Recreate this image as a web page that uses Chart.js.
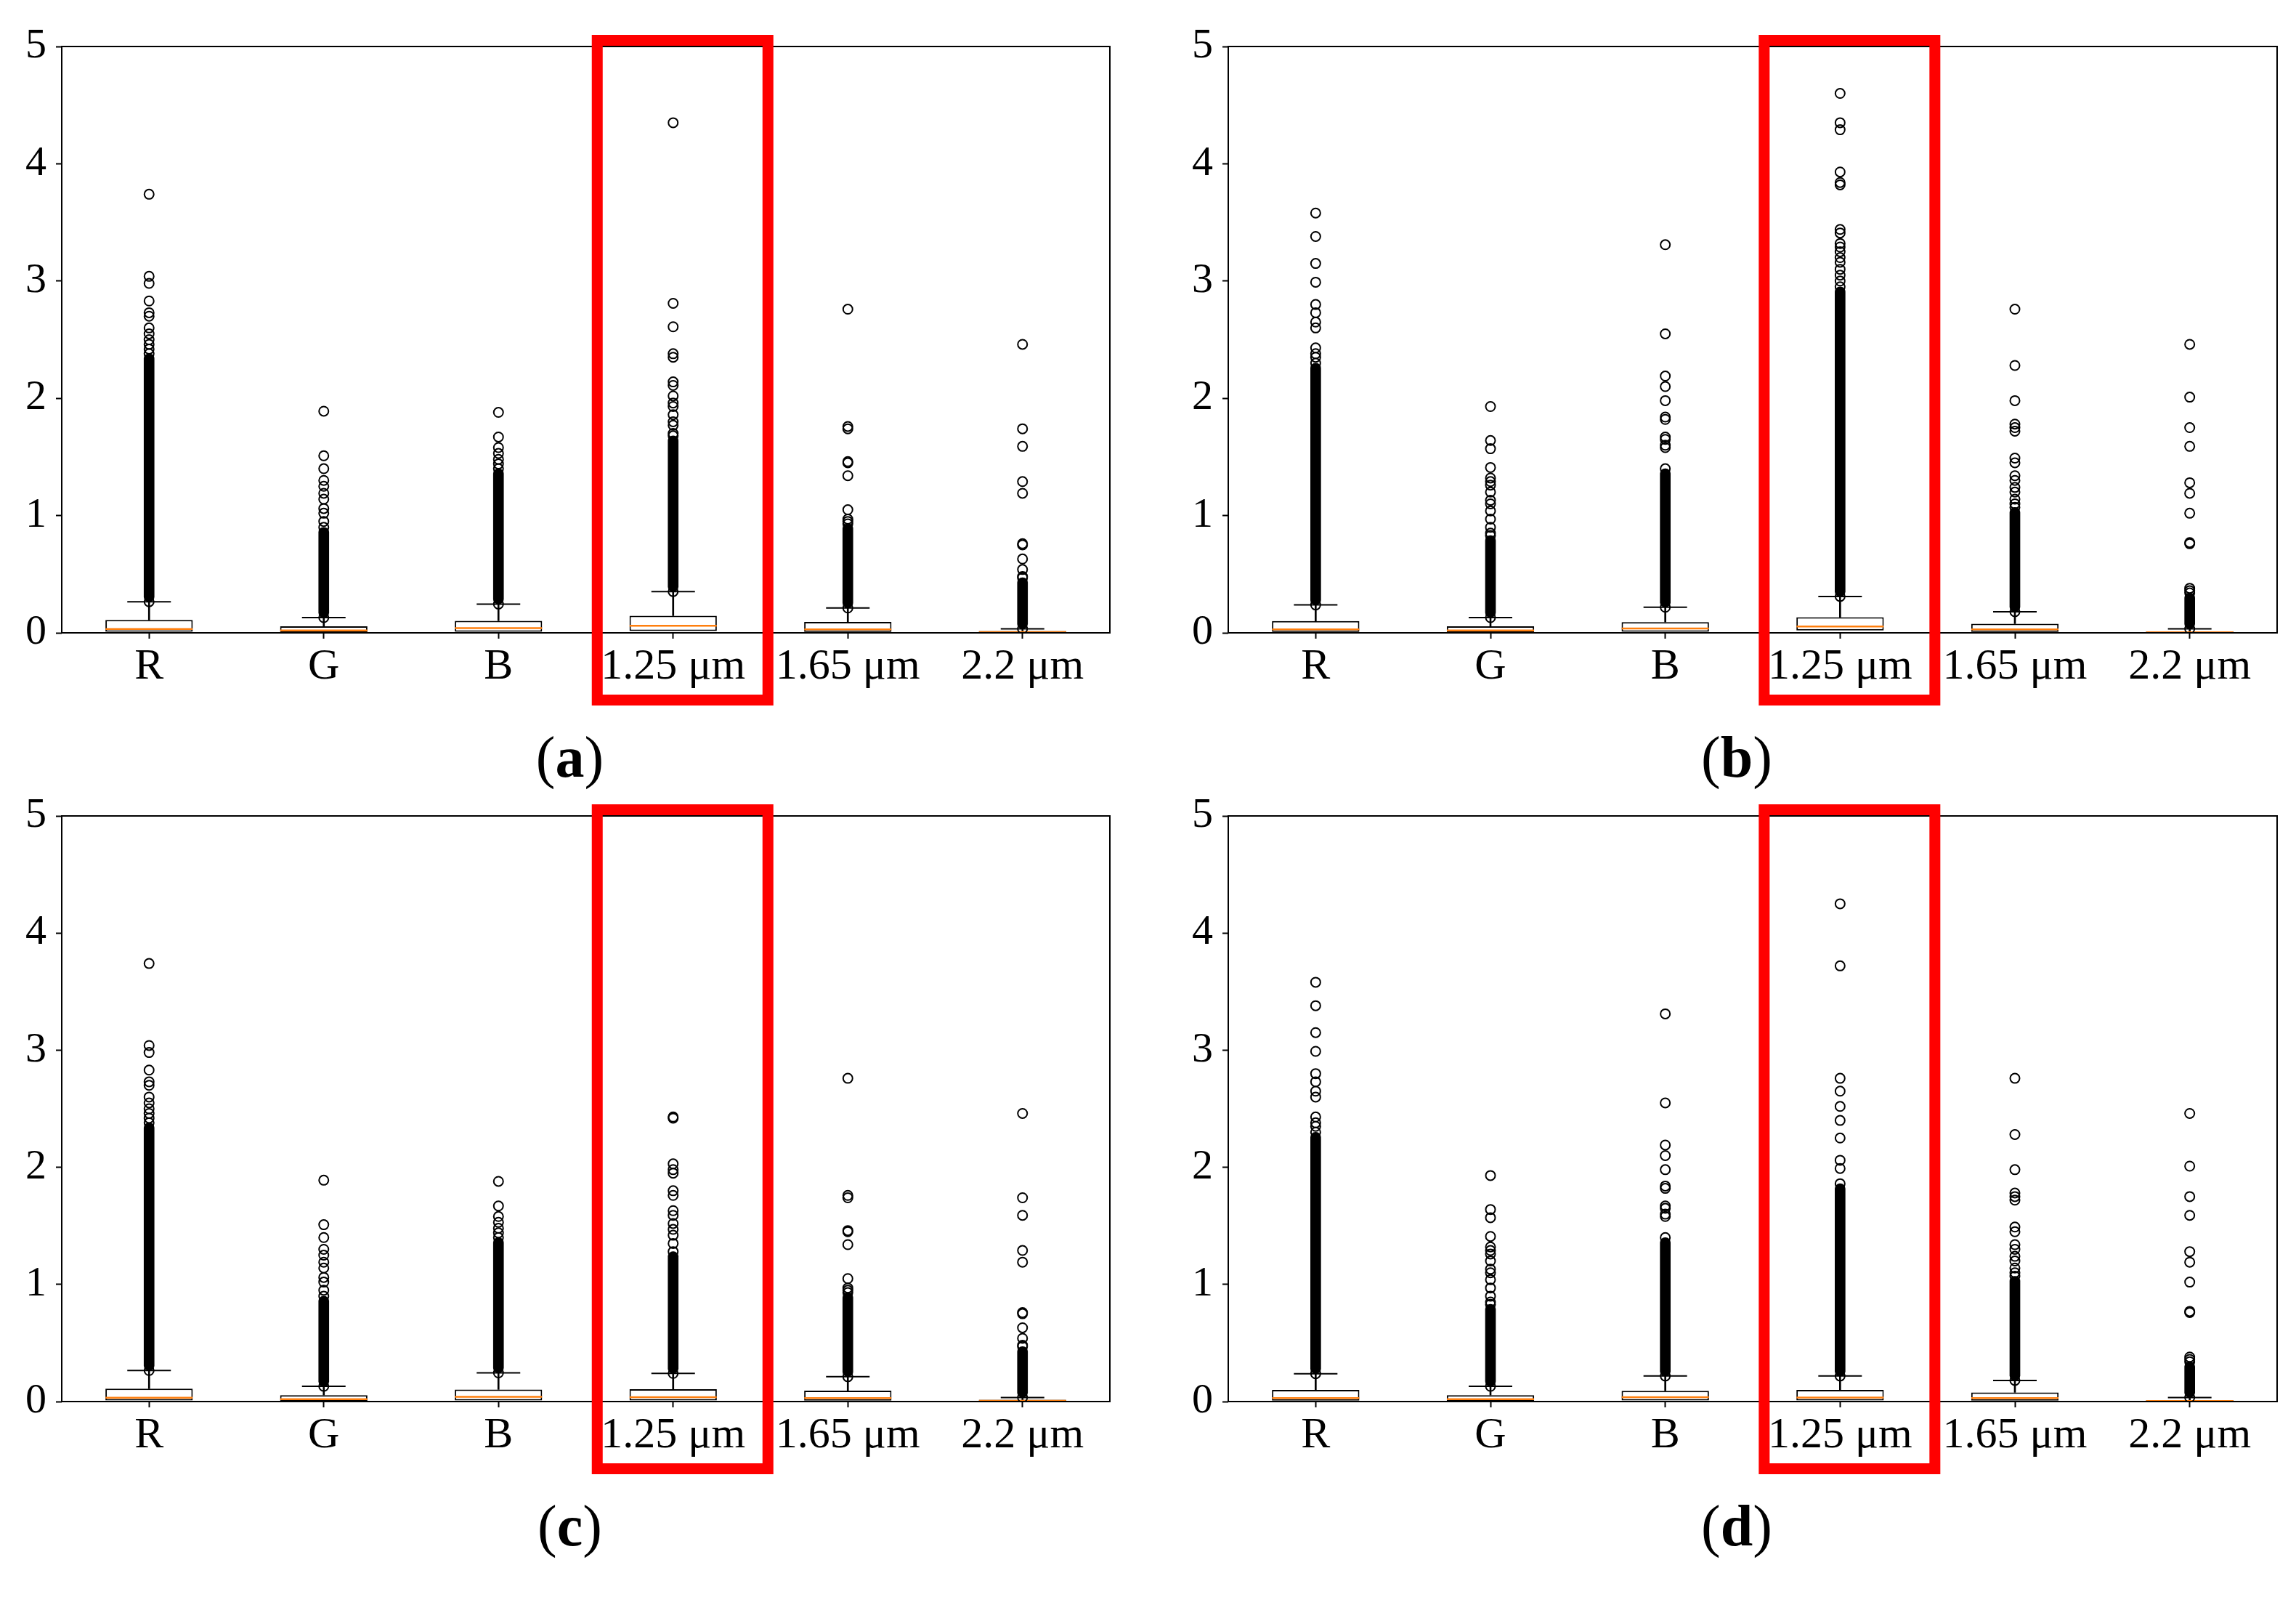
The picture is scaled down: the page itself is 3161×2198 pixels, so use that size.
<!DOCTYPE html>
<html>
<head>
<meta charset="utf-8">
<script src="https://cdn.jsdelivr.net/npm/chart.js@4.4.0/dist/chart.umd.min.js"></script>
<style>
    html, body { margin: 0; padding: 0; background: #fff; }
    body { width: 3161px; height: 2198px; position: relative; overflow: hidden; }
    canvas { position: absolute; left: 0; top: 0; }
</style>
</head>
<body>
<canvas id="pa" width="3161" height="2198"></canvas>
<canvas id="pb" width="3161" height="2198"></canvas>
<canvas id="pc" width="3161" height="2198"></canvas>
<canvas id="pd" width="3161" height="2198"></canvas>
<script>
/* ── Data ───────────────────────────────────────────────── */
const categories = ['R', 'G', 'B', '1.25 μm', '1.65 μm', '2.2 μm'];
const yTicks     = [0, 1, 2, 3, 4, 5];
const whiskerLo  = [0, 0, 0, 0, 0, 0];

/* (a) */
const aQ1        = [0.010, 0.005, 0.010, 0.016, 0.008, 0.002];
const aMedian    = [0.032, 0.020, 0.040, 0.060, 0.030, 0.006];
const aQ3        = [0.110, 0.055, 0.103, 0.146, 0.093, 0.015];
const aWhiskerHi = [0.265, 0.130, 0.245, 0.352, 0.212, 0.034];
const aDenseHi   = [2.38, 0.90, 1.40, 1.68, 0.93, 0.47];
const aFliers    = [
    [2.42, 2.46, 2.50, 2.55, 2.60, 2.70, 2.73, 2.83, 2.98, 3.04, 3.74],
    [0.95, 1.02, 1.06, 1.14, 1.19, 1.25, 1.30, 1.40, 1.51, 1.89],
    [1.44, 1.48, 1.53, 1.58, 1.67, 1.88],
    [1.70, 1.77, 1.80, 1.86, 1.93, 1.96, 2.02, 2.11, 2.14, 2.35, 2.38, 2.61, 2.81, 4.35],
    [0.95, 0.97, 1.05, 1.34, 1.45, 1.46, 1.74, 1.76, 2.76],
    [0.48, 0.54, 0.63, 0.75, 0.76, 1.19, 1.29, 1.59, 1.74, 2.46],
];

/* (b) */
const bQ1        = [0.007, 0.005, 0.010, 0.020, 0.008, 0.001];
const bMedian    = [0.030, 0.020, 0.037, 0.054, 0.030, 0.005];
const bQ3        = [0.100, 0.055, 0.092, 0.133, 0.078, 0.012];
const bWhiskerHi = [0.238, 0.130, 0.218, 0.310, 0.180, 0.034];
const bDenseHi   = [2.30, 0.83, 1.40, 2.95, 1.07, 0.34];
const bFliers    = [
    [2.35, 2.38, 2.43, 2.60, 2.65, 2.73, 2.80, 2.99, 3.15, 3.38, 3.58],
    [0.85, 0.90, 0.97, 1.04, 1.10, 1.13, 1.20, 1.26, 1.29, 1.32, 1.41, 1.57, 1.64, 1.93],
    [1.58, 1.60, 1.65, 1.67, 1.82, 1.84, 1.98, 2.10, 2.19, 2.55, 3.31],
    [3.00, 3.05, 3.10, 3.16, 3.20, 3.25, 3.29, 3.32, 3.41, 3.44, 3.82, 3.84, 3.93, 4.29, 4.35, 4.60],
    [1.10, 1.14, 1.20, 1.24, 1.30, 1.34, 1.45, 1.49, 1.72, 1.75, 1.78, 1.98, 2.28, 2.76],
    [0.36, 0.38, 0.76, 0.77, 1.02, 1.19, 1.28, 1.59, 1.75, 2.01, 2.46],
];

/* (c) */
const cQ1        = [0.010, 0.005, 0.010, 0.010, 0.008, 0.002];
const cMedian    = [0.032, 0.020, 0.040, 0.037, 0.030, 0.006];
const cQ3        = [0.110, 0.055, 0.103, 0.105, 0.093, 0.015];
const cWhiskerHi = [0.265, 0.130, 0.245, 0.240, 0.212, 0.034];
const cDenseHi   = [2.38, 0.90, 1.40, 1.28, 0.93, 0.47];
const cFliers    = [
    [2.42, 2.46, 2.50, 2.55, 2.60, 2.70, 2.73, 2.83, 2.98, 3.04, 3.74],
    [0.95, 1.02, 1.06, 1.14, 1.19, 1.25, 1.30, 1.40, 1.51, 1.89],
    [1.44, 1.48, 1.53, 1.58, 1.67, 1.88],
    [1.35, 1.42, 1.47, 1.52, 1.59, 1.63, 1.76, 1.80, 1.95, 1.98, 2.03, 2.42, 2.43],
    [0.95, 0.97, 1.05, 1.34, 1.45, 1.46, 1.74, 1.76, 2.76],
    [0.48, 0.54, 0.63, 0.75, 0.76, 1.19, 1.29, 1.59, 1.74, 2.46],
];

/* (d) */
const dQ1        = [0.007, 0.005, 0.010, 0.010, 0.008, 0.001];
const dMedian    = [0.030, 0.020, 0.037, 0.034, 0.030, 0.005];
const dQ3        = [0.100, 0.055, 0.092, 0.100, 0.078, 0.012];
const dWhiskerHi = [0.238, 0.130, 0.218, 0.218, 0.180, 0.034];
const dDenseHi   = [2.30, 0.83, 1.40, 1.86, 1.07, 0.34];
const dFliers    = [
    [2.35, 2.38, 2.43, 2.60, 2.65, 2.73, 2.80, 2.99, 3.15, 3.38, 3.58],
    [0.85, 0.90, 0.97, 1.04, 1.10, 1.13, 1.20, 1.26, 1.29, 1.32, 1.41, 1.57, 1.64, 1.93],
    [1.58, 1.60, 1.65, 1.67, 1.82, 1.84, 1.98, 2.10, 2.19, 2.55, 3.31],
    [1.99, 2.06, 2.25, 2.40, 2.52, 2.65, 2.76, 3.72, 4.25],
    [1.10, 1.14, 1.20, 1.24, 1.30, 1.34, 1.45, 1.49, 1.72, 1.75, 1.78, 1.98, 2.28, 2.76],
    [0.36, 0.38, 0.76, 0.77, 1.02, 1.19, 1.28, 1.59, 1.75, 2.01, 2.46],
];

/* ── Shared styling ─────────────────────────────────────── */
const FONT   = 'Liberation Serif';
const W      = 3161, H = 2198;
const Y_AXIS_W = 85, X_AXIS_H = 100;

const TICK_GRID = {
    display         : true,
    drawOnChartArea : false,
    drawTicks       : true,
    tickLength      : 8,
    tickWidth       : 2,
    tickColor       : '#000',
};

/* frame, red highlight and panel letter */
const panelDeco = {
    id : 'panelDeco',
    afterDraw(chart, args, opts) {
        const { ctx, chartArea: a, scales: { x } } = chart;
        ctx.save();

        ctx.strokeStyle = '#000';
        ctx.lineWidth   = 2;
        ctx.strokeRect(a.left, a.top, a.right - a.left, a.bottom - a.top);

        // red box round the 1.25 μm column
        const cx = x.getPixelForValue(categories.indexOf('1.25 μm')) + 13;
        const lw = 15;
        const top = a.top - 16, bottom = a.bottom + 100;
        ctx.strokeStyle = '#ff0000';
        ctx.lineWidth   = lw;
        ctx.strokeRect(cx - 125 + lw / 2, top + lw / 2, 250 - lw, bottom - top - lw);

        // (a) / (b) ... with bold letter
        const parts = [['(', 'normal'], [opts.letter, 'bold'], [')', 'normal']];
        let total = 0;
        parts.forEach(p => {
            ctx.font = p[1] + ' 80px "' + FONT + '"';
            p.push(ctx.measureText(p[0]).width);
            total += p[2];
        });
        let px = (a.left + a.right) / 2 - 22 - total / 2;
        const py = a.bottom + 198;
        ctx.fillStyle    = '#000';
        ctx.textBaseline = 'alphabetic';
        ctx.textAlign    = 'left';
        parts.forEach(p => {
            ctx.font = p[1] + ' 80px "' + FONT + '"';
            ctx.fillText(p[0], px, py);
            px += p[2];
        });

        ctx.restore();
    },
};

function boxPanel(id, letter, area, q1, median, q3, whiskerHi, denseHi, fliers) {
    // individual fliers plus the ends of the dense run of fliers
    const flierPts = [];
    fliers.forEach((list, i) => {
        const cat = categories[i];
        flierPts.push({ x: cat, y: whiskerHi[i] }, { x: cat, y: denseHi[i] });
        list.forEach(v => flierPts.push({ x: cat, y: v }));
    });

    new Chart(document.getElementById(id), {
        type : 'bar',
        data : {
            labels   : categories,
            datasets : [
                {
                    type                 : 'line',
                    label                : 'fliers',
                    data                 : flierPts,
                    showLine             : false,
                    pointStyle           : 'circle',
                    pointRadius          : 6.5,
                    pointBorderWidth     : 2,
                    pointBorderColor     : '#000',
                    pointBackgroundColor : 'rgba(0,0,0,0)',
                    order                : 1,
                },
                {
                    type             : 'line',
                    label            : 'median',
                    data             : median,
                    showLine         : false,
                    pointStyle       : 'line',
                    pointRadius      : 60,
                    pointBorderWidth : 2.5,
                    pointBorderColor : '#ff7f0e',
                    order            : 2,
                },
                {
                    type             : 'line',
                    label            : 'cap high',
                    data             : whiskerHi,
                    showLine         : false,
                    pointStyle       : 'line',
                    pointRadius      : 30,
                    pointBorderWidth : 2,
                    pointBorderColor : '#000',
                    order            : 3,
                },
                {
                    type             : 'line',
                    label            : 'cap low',
                    data             : whiskerLo,
                    showLine         : false,
                    pointStyle       : 'line',
                    pointRadius      : 30,
                    pointBorderWidth : 2,
                    pointBorderColor : '#000',
                    order            : 3,
                },
                {
                    label           : 'whisker',
                    data            : q3.map((v, i) => [v, whiskerHi[i]]),
                    backgroundColor : '#000',
                    barThickness    : 2,
                    grouped         : false,
                    order           : 4,
                },
                {
                    label           : 'dense fliers',
                    data            : whiskerHi.map((v, i) => [v, denseHi[i]]),
                    backgroundColor : '#000',
                    barThickness    : 14,
                    borderRadius    : 7,
                    borderSkipped   : false,
                    grouped         : false,
                    order           : 5,
                },
                {
                    label              : 'box',
                    data               : q1.map((v, i) => [v, q3[i]]),
                    backgroundColor    : '#fff',
                    borderColor        : '#000',
                    borderWidth        : 2,
                    borderSkipped      : false,
                    barPercentage      : 0.5,
                    categoryPercentage : 1,
                    grouped            : false,
                    order              : 6,
                },
            ],
        },
        options : {
            responsive       : false,
            animation        : false,
            devicePixelRatio : 1,
            layout : {
                autoPadding : false,   // the wide median/cap markers would otherwise shrink the plot
                padding : {
                    left   : area.left - Y_AXIS_W,
                    top    : area.top,
                    right  : W - area.right,
                    bottom : H - area.bottom - X_AXIS_H,
                },
            },
            plugins : {
                legend    : { display: false },
                tooltip   : { enabled: false },
                panelDeco : { letter },
            },
            scales : {
                x : {
                    offset   : true,
                    afterFit : s => {
                        s.height       = X_AXIS_H;
                        s.paddingLeft  = 0;
                        s.paddingRight = 0;
                    },
                    border   : { display: false },
                    grid     : { ...TICK_GRID, offset: false },
                    ticks    : {
                        color       : '#000',
                        font        : { family: FONT, size: 60 },
                        padding     : 3,
                        maxRotation : 0,
                        autoSkip    : false,
                    },
                },
                y : {
                    min             : 0,
                    max             : 5,
                    afterBuildTicks : s => { s.ticks = yTicks.map(v => ({ value: v })); },
                    afterFit        : s => { s.width = Y_AXIS_W; },
                    border          : { display: false },
                    grid            : TICK_GRID,
                    ticks           : {
                        color   : '#000',
                        font    : { family: FONT, size: 58 },
                        padding : 13,
                    },
                },
            },
        },
        plugins : [panelDeco],
    });
}

boxPanel('pa', 'a', { left: 85,   top: 64,   right: 1528, bottom: 871  }, aQ1, aMedian, aQ3, aWhiskerHi, aDenseHi, aFliers);
boxPanel('pb', 'b', { left: 1691, top: 64,   right: 3135, bottom: 871  }, bQ1, bMedian, bQ3, bWhiskerHi, bDenseHi, bFliers);
boxPanel('pc', 'c', { left: 85,   top: 1123, right: 1528, bottom: 1929 }, cQ1, cMedian, cQ3, cWhiskerHi, cDenseHi, cFliers);
boxPanel('pd', 'd', { left: 1691, top: 1123, right: 3135, bottom: 1929 }, dQ1, dMedian, dQ3, dWhiskerHi, dDenseHi, dFliers);
</script>
</body>
</html>
